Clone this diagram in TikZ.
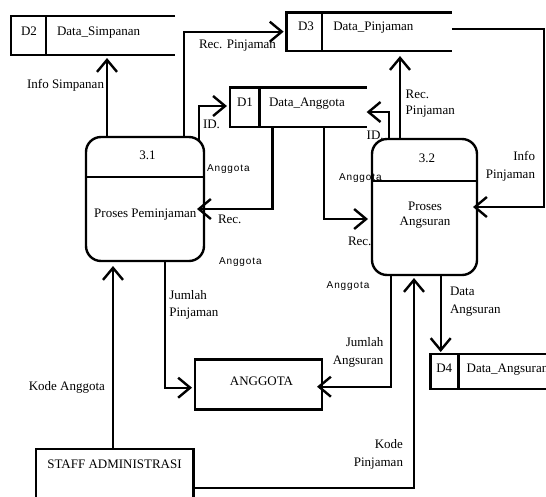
\documentclass[tikz,border=0pt]{standalone}
\usepackage{fontspec}
\setmainfont{Liberation Serif}
\newfontfamily\tagfont[LetterSpace=9]{Liberation Sans}
\usetikzlibrary{arrows.meta,calc}

\tikzset{
  every node/.style={inner sep=0pt, outer sep=0pt, font=\fontsize{13}{16}\selectfont},
  ln/.style={line width=2.4pt},
  flow/.style={ln, -{Straight Barb[length=12pt,width=20pt]}},
  proc/.style={draw, ln, rounded corners=15pt, minimum width=#1},
  proc/.default=110pt,
  ent/.style={draw, ln},
  store/.style={minimum width=#1},
  tag/.style={anchor=base west, font=\tagfont\fontsize{10}{11}\selectfont},
}

\begin{document}
\begin{tikzpicture}[x=1pt, y=-1pt]
\useasboundingbox (0,0) rectangle (546,496);

% ---------- data stores (open on the right) ----------
\node[store=164pt, minimum height=39pt] (d2) at (93,35.5) {};
\node[store=165.3pt, minimum height=38.7pt] (d3) at (369.3,31.7) {};
\node[store=136.7pt, minimum height=39.4pt] (d1) at (298.3,107) {};
\node[store=129.3pt, minimum height=35pt] (d4) at (495.3,371.5) {};
\foreach \s/\dx in {d2/45.7, d3/322, d1/259.3, d4/458.3}{
  \draw[ln] (\s.north east) -- (\s.north west) -- (\s.south west) -- (\s.south east);
  \coordinate (\s-div) at (\dx,0);
  \draw[ln] (\s.north -| \s-div) -- (\s.south -| \s-div);
}
\node[anchor=base] (d2id) at (29,35) {D2};
\node[anchor=base west] (d2nm) at (57,35.6) {Data\_Simpanan};
\node[anchor=base] (d3id) at (306,30.5) {D3};
\node[anchor=base west] (d3nm) at (333.3,30.5) {Data\_Pinjaman};
\node[anchor=base] (d1id) at (245,106) {D1};
\node[anchor=base west] (d1nm) at (269,106) {Data\_Anggota};
\node[anchor=base] (d4id) at (444.2,372) {D4};
\node[anchor=base west] (d4nm) at (466.7,372) {Data\_Angsuran};

% ---------- processes ----------
\node[proc=118pt, minimum height=124pt] (p31) at (145,199) {};
\coordinate (p31div) at (0,176.7);
\draw[ln] (p31.west |- p31div) -- (p31.east |- p31div);
\node[anchor=base] (p31id) at (147.5,159) {3.1};
\node[anchor=base] (p31nm) at (145.3,217.6) {Proses Peminjaman};

\node[proc=105pt, minimum height=136pt] (p32) at (424.5,207) {};
\coordinate (p32div) at (0,181);
\draw[ln] (p32.west |- p32div) -- (p32.east |- p32div);
\node[anchor=base] (p32id) at (427,162) {3.2};
\node[anchor=base] (p32nm1) at (425,210) {Proses};
\node[anchor=base] (p32nm2) at (425,225.5) {Angsuran};

% ---------- external entities ----------
\node[ent, minimum width=127pt, minimum height=50pt] (ang) at (258.5,384.3) {};
\node[anchor=base] (angnm) at (261.5,385) {ANGGOTA};
\node[ent, minimum width=157.3pt, minimum height=81pt] (staff) at (114.7,489.5) {};
\node[anchor=base] (staffnm) at (114.5,468) {STAFF ADMINISTRASI};

% ---------- data flows ----------
\coordinate (cIS) at (107,0);
\draw[flow, shorten >=3pt] (p31.north -| cIS) -- (d2.south -| cIS);

\coordinate (cRP) at (184,0);
\draw[flow, shorten >=3pt] (p31.north -| cRP) |- (d3.west);

\coordinate (cID1) at (199,106);
\draw[flow, shorten >=3pt] ($(p31.north -| cID1)+(0,3.5)$) |- (d1.west |- cID1);

\coordinate (cID2) at (389,112);
\draw[flow] (p32.north -| cID2) |- (d1.east |- cID2);

\coordinate (cRP2) at (400,0);
\draw[flow, shorten >=5pt] (p32.north -| cRP2) -- (d3.south -| cRP2);

\coordinate (cIP) at (544,29);
\draw[flow, shorten >=-4pt] (d3.east |- cIP) -- (cIP) |- (p32.east);

\coordinate (cRA1) at (272.3,209);
\draw[flow, shorten >=-7pt] (d1.south -| cRA1) |- (p31.east |- cRA1);

\coordinate (cRA2) at (324,219);
\draw[flow, shorten >=4pt] (d1.south -| cRA2) |- (p32.west |- cRA2);

\coordinate (cJP) at (165,387.7);
\draw[flow, shorten >=3pt] (p31.south -| cJP) |- (ang.west |- cJP);

\coordinate (cKA) at (113,0);
\draw[flow, shorten >=5pt] (staff.north -| cKA) -- (p31.south -| cKA);

\coordinate (cKP) at (414,487.7);
\draw[flow, shorten >=3pt] (staff.east |- cKP) -| (p32.south -| cKP);

\coordinate (cJA) at (390.7,386.7);
\draw[flow, shorten >=-5pt] (p32.south -| cJA) |- (ang.east |- cJA);

\coordinate (cDA) at (440.7,0);
\draw[flow, shorten >=2pt] (p32.south -| cDA) -- (d4.north -| cDA);

% ---------- flow labels ----------
\node[anchor=base east] (lIS) at (104,88) {Info Simpanan};
\node[anchor=base west] (lRP) at (199,48.5) {Rec. Pinjaman};
\node[anchor=base west] (lRP2a) at (405.7,98.3) {Rec.};
\node[anchor=base west] (lRP2b) at (405.7,114.5) {Pinjaman};
\node[anchor=base west] (lID1) at (203,128) {ID.};
\node[anchor=base west] (lID2) at (366.7,139) {ID.};
\node[anchor=base east] (lIPa) at (535,160.7) {Info};
\node[anchor=base east] (lIPb) at (535,178.5) {Pinjaman};
\node[anchor=base west] (lRA1) at (218,223) {Rec.};
\node[anchor=base west] (lRA2) at (348,245.6) {Rec.};
\node[anchor=base west] (lJPa) at (169.3,299) {Jumlah};
\node[anchor=base west] (lJPb) at (169.3,316) {Pinjaman};
\node[anchor=base east] (lJAa) at (383.3,346.5) {Jumlah};
\node[anchor=base east] (lJAb) at (383.3,364.6) {Angsuran};
\node[anchor=base west] (lDAa) at (450,295.7) {Data};
\node[anchor=base west] (lDAb) at (450,313) {Angsuran};
\node[anchor=base east] (lKPa) at (403,448.3) {Kode};
\node[anchor=base east] (lKPb) at (403,466.7) {Pinjaman};
\node[anchor=base east] (lKA) at (105,390) {Kode Anggota};

% small "Anggota" tags, trimmed just under the baseline
\foreach \nm/\x/\y in {tA1/207/171, tA2/219/264, tA3/339/180, tA4/326.7/288}{
  \begin{scope}
    \clip (\x-2,\y-12) rectangle (\x+50,\y+1.5);
    \node[tag] (\nm) at (\x,\y) {Anggota};
  \end{scope}
}
\end{tikzpicture}
\end{document}
